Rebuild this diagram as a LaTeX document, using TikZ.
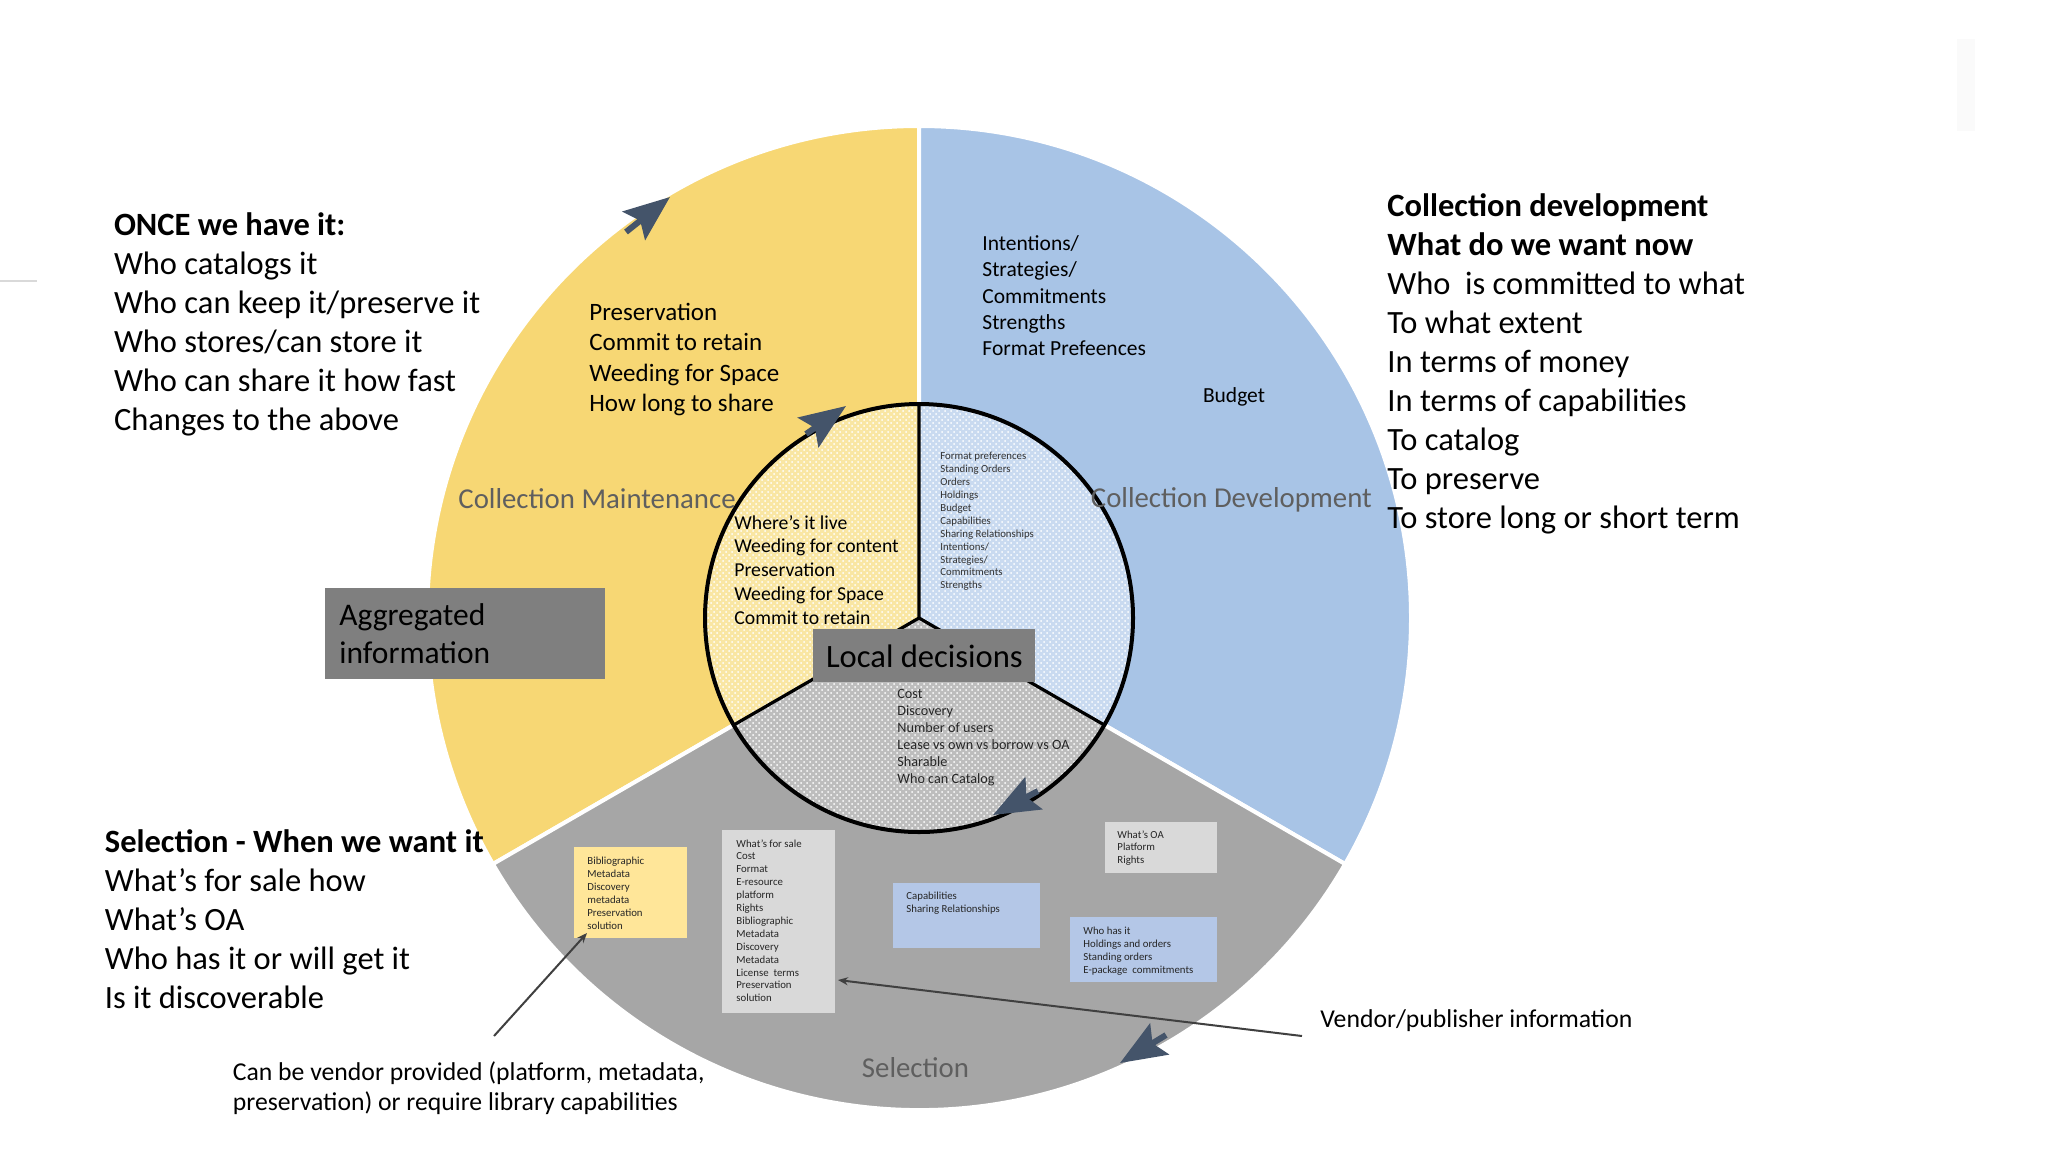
\documentclass[tikz,border=0pt]{standalone}
\usepackage{fontspec}
\setmainfont{Carlito}
\usetikzlibrary{arrows.meta,patterns}
\definecolor{ycol}{HTML}{F7D774}
\definecolor{bcol}{HTML}{A8C4E6}
\definecolor{gcol}{HTML}{A6A6A6}
\definecolor{yin}{HTML}{F9E6A3}
\definecolor{bin}{HTML}{C9DAF0}
\definecolor{gin}{HTML}{BDBDBD}
\definecolor{boxy}{HTML}{FFE699}
\definecolor{boxg}{HTML}{D9D9D9}
\definecolor{boxb}{HTML}{B4C7E7}
\definecolor{darkbox}{HTML}{7F7F7F}
\definecolor{navy}{HTML}{44546A}
\definecolor{labgray}{HTML}{5F5F5F}
\begin{document}
\begin{tikzpicture}[x=0.5pt,y=-0.5pt,
  bigtext/.style={font=\fontsize{16.25}{19.5}\selectfont, align=left, anchor=north west, inner sep=0pt},
  midtext/.style={font=\fontsize{12.5}{15.25}\selectfont, align=left, anchor=north west, inner sep=0pt},
  bluetext/.style={font=\fontsize{10.75}{13.2}\selectfont, align=left, anchor=north west, inner sep=0pt},
  inytext/.style={font=\fontsize{9.85}{11.9}\selectfont, align=left, anchor=north west, inner sep=0pt},
  ingtext/.style={font=\fontsize{7.1}{8.5}\selectfont, align=left, anchor=north west, inner sep=0pt},
  tinytext/.style={font=\fontsize{5.4}{6.45}\selectfont, align=left, anchor=north west, inner sep=0pt, text=black!85},
  seclabel/.style={font=\fontsize{14.4}{17}\selectfont, text=labgray, inner sep=0pt},
  notetext/.style={font=\fontsize{12.85}{15}\selectfont, align=left, inner sep=0pt},
  darkboxstyle/.style={fill=darkbox, inner sep=0pt, anchor=north west},
  infobox/.style={inner sep=0pt, anchor=north west},
  bigarrow/.style={navy, line width=3pt, -{Stealth[length=23pt,width=18pt,inset=4pt]}},
  notearrow/.style={black!75, line width=1pt, -{Stealth[length=5pt,width=4pt]}},
  sectoredge/.style={draw=white, line width=2pt},
  dotted fill/.style={pattern=crosshatch dots, pattern color=white!100},
]
\useasboundingbox (0,0) rectangle (2048,1152);
\fill[white] (0,0) rectangle (2048,1152);
% faint screenshot artefacts
\draw[black!15, line width=0.8pt] (0,281) -- (37,281);
\fill[black!2] (1957,39) rectangle (1975,131);

\coordinate (C) at (919,618);
\def\R{492}
\def\r{214}
% outer sectors
\filldraw[fill=ycol, sectoredge] (C) -- ++(-90:\R) arc[start angle=-90, end angle=-210, radius=\R] -- cycle;
\filldraw[fill=bcol, sectoredge] (C) -- ++(-90:\R) arc[start angle=-90, end angle=30, radius=\R] -- cycle;
\filldraw[fill=gcol, sectoredge] (C) -- ++(-210:\R) arc[start angle=-210, end angle=-330, radius=\R] -- cycle;
% inner sectors
\fill[yin] (C) -- ++(-90:\r) arc[start angle=-90, end angle=-210, radius=\r] -- cycle;
\fill[bin] (C) -- ++(-90:\r) arc[start angle=-90, end angle=30, radius=\r] -- cycle;
\fill[gin] (C) -- ++(-210:\r) arc[start angle=-210, end angle=-330, radius=\r] -- cycle;
\fill[dotted fill] (C) circle[radius=\r];
\draw[black, line width=1.6pt] (C) -- ++(-90:\r) (C) -- ++(-210:\r) (C) -- ++(30:\r);
\draw[black, line width=2pt] (C) circle[radius=\r];

% side texts
\node[bigtext] (once) at (113.6,212.5) {\textbf{ONCE we have it:}\\Who catalogs it\\Who can keep it/preserve it\\Who stores/can store it\\Who can share it how fast\\Changes to the above};
\node[bigtext] (cdev) at (1387,193) {\textbf{Collection development}\\\textbf{What do we want now}\\Who\ \ is committed to what\\To what extent\\In terms of money\\In terms of capabilities\\To catalog\\To preserve\\To store long or short term};
\node[bigtext] (sel) at (104.5,829) {\textbf{Selection - When we want it}\\What’s for sale how\\What’s OA\\Who has it or will get it\\Is it discoverable};

% sector texts
\node[midtext] (ytext) at (589,302.8) {Preservation\\Commit to retain\\Weeding for Space\\How long to share};
\node[bluetext] (btext) at (982,235) {Intentions/\\Strategies/\\Commitments\\Strengths\\Format Prefeences};
\node[font=\fontsize{10.75}{13.2}\selectfont, inner sep=0pt] (budget) at (1234,397) {Budget};
\node[seclabel, anchor=west] (cmaint) at (458,499) {Collection Maintenance};
\node[seclabel, anchor=west] (cdevlab) at (1090.5,500) {Collection Development};
\node[seclabel] (sellab) at (915.5,1068) {Selection};

% inner texts
\node[inytext] (iny) at (734,514.7) {Where’s it live\\Weeding for content\\Preservation\\Weeding for Space\\Commit to retain};
\node[tinytext, text=black!80] (inb) at (940,452) {Format preferences\\Standing Orders\\Orders\\Holdings\\Budget\\Capabilities\\Sharing Relationships\\Intentions/\\Strategies/\\Commitments\\Strengths};
\node[ingtext, text=black!85] (ing) at (897,688.8) {Cost\\Discovery\\Number of users\\Lease vs own vs borrow vs OA\\Sharable\\Who can Catalog};

% dark boxes
\node[darkboxstyle, minimum width=140pt, minimum height=45.5pt] (agg) at (325,588) {};
\node[font=\fontsize{15.75}{19}\selectfont, align=left, anchor=north west, inner sep=0pt] (aggtext) at (339,603.4) {Aggregated\\information};
\node[darkboxstyle, minimum width=111pt, minimum height=26.5pt] (local) at (813,629) {};
\node[font=\fontsize{16.3}{19.5}\selectfont, inner sep=0pt] (localtext) at (local.center) {Local decisions};

% info boxes in selection sector
\node[infobox, fill=boxy, minimum width=56.5pt, minimum height=45.5pt] (bib) at (574,847) {};
\node[tinytext] (bibtext) at (587,857) {Bibliographic\\Metadata\\Discovery\\metadata\\Preservation\\solution};
\node[infobox, fill=boxg, minimum width=56.5pt, minimum height=91.5pt] (sale) at (722,830) {};
\node[tinytext] (saletext) at (736,839) {What’s for sale\\Cost\\Format\\E-resource\\platform\\Rights\\Bibliographic\\Metadata\\Discovery\\Metadata\\License\ \ terms\\Preservation\\solution};
\node[infobox, fill=boxg, minimum width=56pt, minimum height=25.5pt] (oa) at (1105,822) {};
\node[tinytext] (oatext) at (1117,830) {What’s OA\\Platform\\Rights};
\node[infobox, fill=boxb, minimum width=73.5pt, minimum height=32.5pt] (cap) at (893,883) {};
\node[tinytext] (captext) at (906,892) {Capabilities\\Sharing Relationships};
\node[infobox, fill=boxb, minimum width=73.5pt, minimum height=32.5pt] (who) at (1070,917) {};
\node[tinytext] (whotext) at (1083,927) {Who has it\\Holdings and orders\\Standing orders\\E-package\ \ commitments};

% notes
\node[notetext, anchor=west] (vendor) at (1320,1021) {Vendor/publisher information};
\node[notetext, anchor=north west] (canbe) at (232.5,1061.5) {Can be vendor provided (platform, metadata,\\preservation) or require library capabilities};
\coordinate (vstart) at (1302,1036);
\coordinate (vend) at (838,980);
\coordinate (cstart) at (494,1036);
\coordinate (cend) at (587,933);
\draw[notearrow] (vstart) -- (vend);
\draw[notearrow] (cstart) -- (cend);

% big navy arrowheads
\coordinate (a1s) at (626,232); \coordinate (a1e) at (670,197);
\coordinate (a2s) at (1166,1035); \coordinate (a2e) at (1120,1063);
\coordinate (a3s) at (806,434); \coordinate (a3e) at (846,406);
\coordinate (a4s) at (1038,791); \coordinate (a4e) at (993,815);
\draw[bigarrow] (a1s) -- (a1e);
\draw[bigarrow] (a2s) -- (a2e);
\draw[bigarrow] (a3s) -- (a3e);
\draw[bigarrow] (a4s) -- (a4e);
\end{tikzpicture}
\end{document}
